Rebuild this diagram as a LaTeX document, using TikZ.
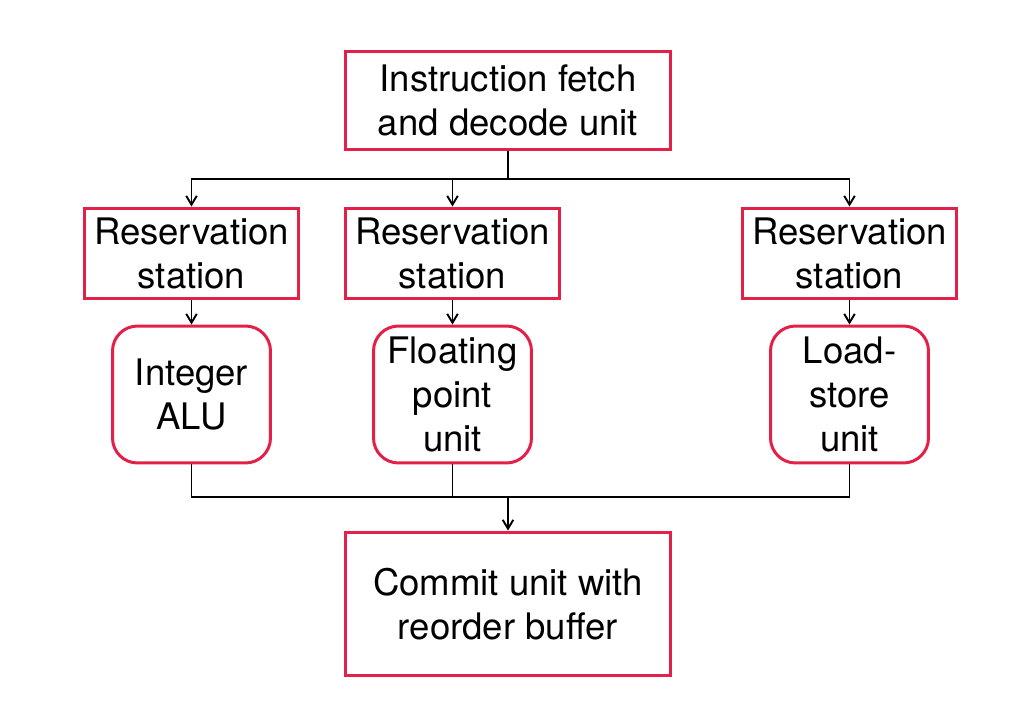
\documentclass[tikz,border=0pt]{standalone}
\usepackage{fontspec}
\setmainfont{TeX Gyre Heros}
\usetikzlibrary{arrows.meta}
\definecolor{boxred}{RGB}{226,32,72}
\begin{document}
\begin{tikzpicture}[x=0.02cm,y=-0.02cm,
        unitbox/.style={draw=boxred,line width=1.7pt,align=center,inner sep=0pt,
            font=\fontsize{20.8}{25}\selectfont},
        stationbox/.style={unitbox,minimum width=4.3cm,minimum height=1.82cm},
        execbox/.style={unitbox,rounded corners=0.5cm,minimum width=3.16cm,minimum height=2.74cm},
        wire/.style={line width=1.1pt},
        arrowwire/.style={wire,-{Straight Barb[length=5pt,width=6pt]}}]
        \useasboundingbox (0,0) rectangle (1022,703);
        % fetch and commit
        \node[unitbox,minimum width=6.5cm,minimum height=1.98cm] (fetch) at (508,100.5) {Instruction fetch\\and decode unit};
        \node[unitbox,minimum width=6.52cm,minimum height=2.88cm] (commit) at (508,604) {Commit unit with\\reorder buffer};
        % reservation stations
        \node[stationbox] (rsint) at (191.5,253.5) {Reservation\\station};
        \node[stationbox] (rsfp) at (452.5,253.5) {Reservation\\station};
        \node[stationbox] (rsls) at (849.5,253.5) {Reservation\\station};
        % functional units
        \node[execbox] (alu) at (191.5,394.5) {Integer\\ALU};
        \node[execbox] (fpu) at (452.5,394.5) {Floating\\point\\unit};
        \node[execbox] (lsu) at (849.5,394.5) {Load-\\store\\unit};
        % wiring
        \coordinate (split) at (508,179);
        \coordinate (merge) at (508,497);
        \draw[wire] (fetch.south) -- (split);
        \draw[arrowwire] (split) -| (rsint.north);
        \draw[arrowwire] (split) -| (rsfp.north);
        \draw[arrowwire] (split) -| (rsls.north);
        \draw[arrowwire] (rsint) -- (alu);
        \draw[arrowwire] (rsfp) -- (fpu);
        \draw[arrowwire] (rsls) -- (lsu);
        \draw[wire] (alu.south) |- (merge);
        \draw[wire] (fpu.south) |- (merge);
        \draw[wire] (lsu.south) |- (merge);
        \draw[arrowwire] (merge) -- (commit.north);
    \end{tikzpicture}
\end{document}
